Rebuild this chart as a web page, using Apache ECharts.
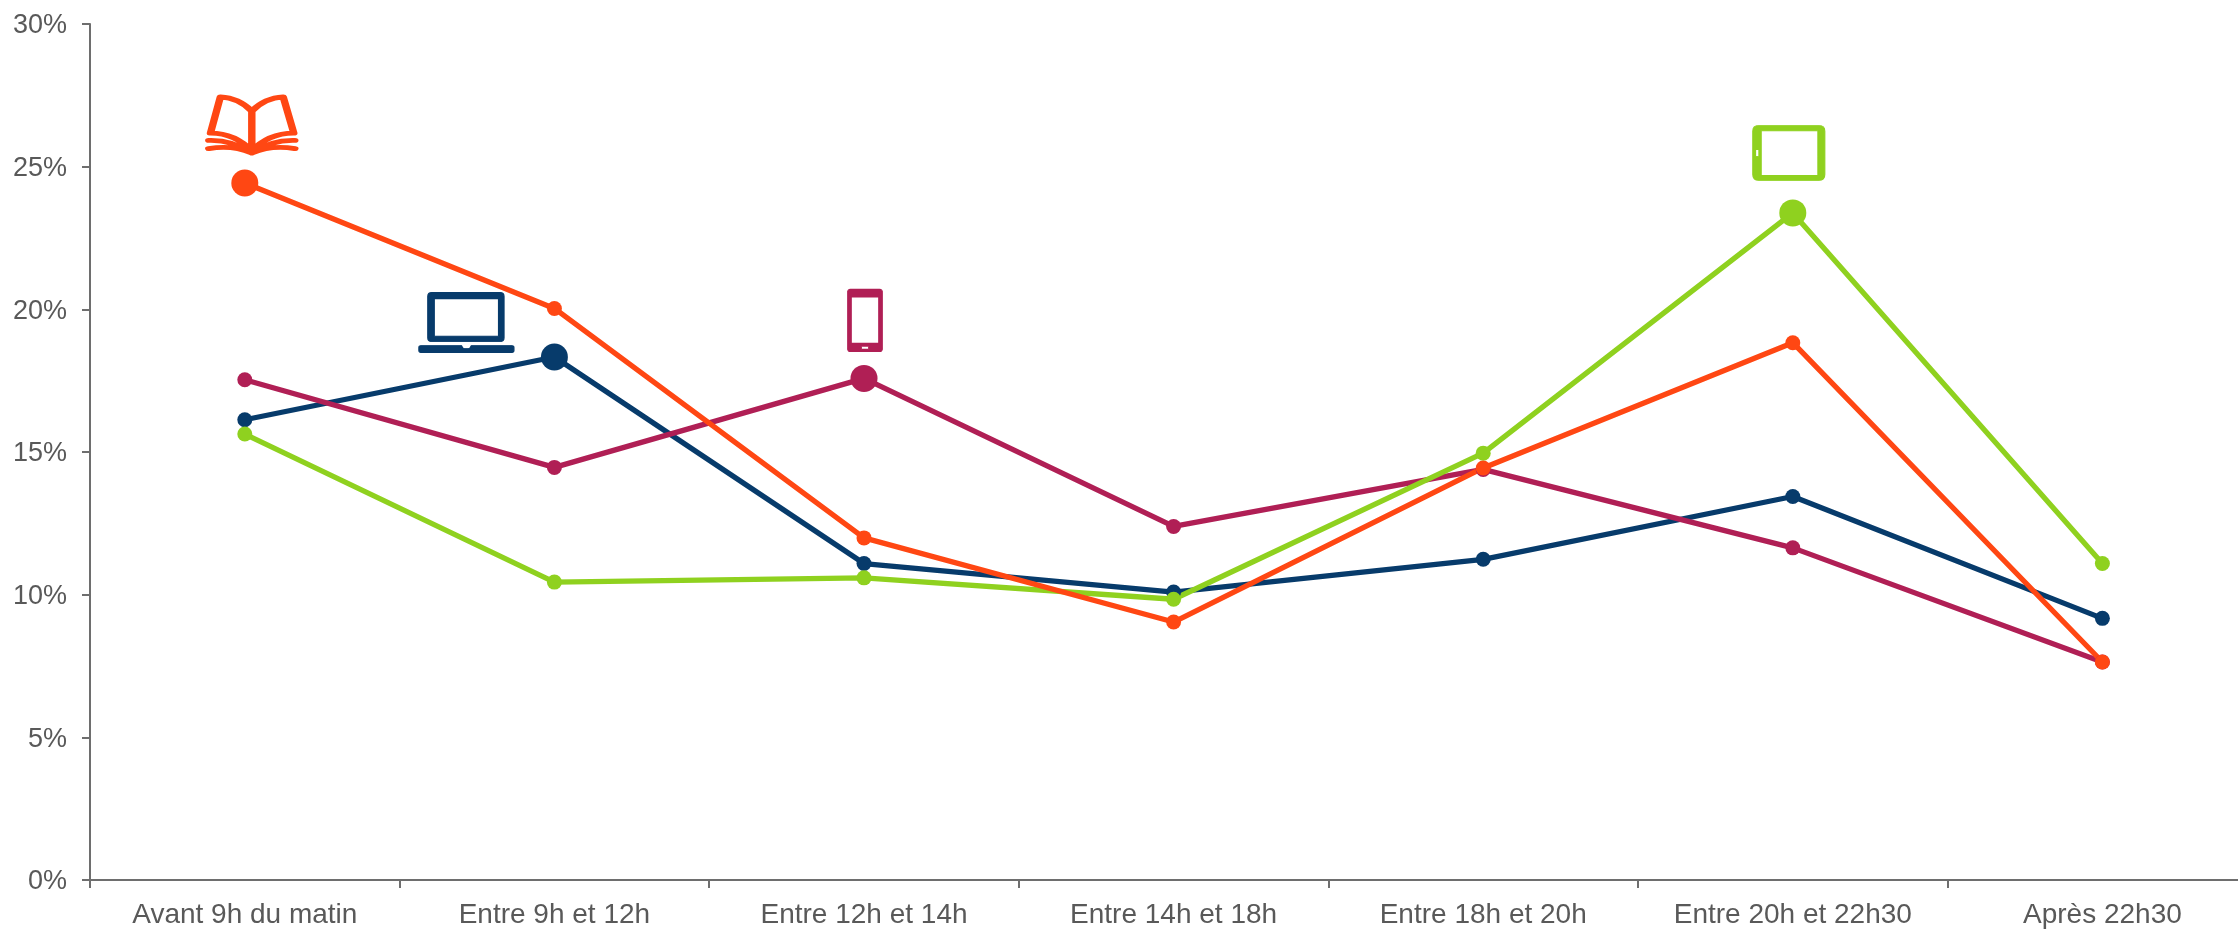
<!DOCTYPE html>
<html>
<head>
<meta charset="utf-8">
<style>html,body{margin:0;padding:0;background:#fff}#c{width:2238px;height:929px}</style>
<script src="https://cdn.jsdelivr.net/npm/echarts@6/dist/echarts.min.js"></script>
</head>
<body>
<div id="c"></div>
<script>
const categories = ['Avant 9h du matin','Entre 9h et 12h','Entre 12h et 14h','Entre 14h et 18h','Entre 18h et 20h','Entre 20h et 22h30','Après 22h30'];
const navyValues = [16.13,18.33,11.09,10.09,11.24,13.44,9.17];
const crimsonValues = [17.53,14.46,17.58,12.39,14.39,11.64,7.64];
const greenValues = [15.63,10.44,10.59,9.84,14.96,23.38,11.09];
const orangeValues = [24.43,20.03,11.99,9.04,14.44,18.83,7.64];

const NAVY='#073B6B', CRIMSON='#B01F55', GREEN='#8FD11F', ORANGE='#FF4713';

const laptopIcon = 'path://M13 0H82Q86 0 86 4V46Q86 50 82 50H13Q9 50 9 46V4Q9 0 13 0Z'
  + 'M15.5 6.5V44.5H80.5V6.5Z'
  + 'M2 54H43Q44 57 46 57H50Q52 57 53 54H94Q96 54 96 56V59Q96 61 94 61H2Q0 61 0 59V56Q0 54 2 54Z';
const phoneIcon = 'path://M3 0H33Q36 0 36 3V60Q36 63 33 63H3Q0 63 0 60V3Q0 0 3 0Z'
  + 'M4 7.5V55H32V7.5Z'
  + 'M14.5 57.5V61H21.5V57.5Z';
const tabletIcon = 'path://M6 0H67Q73 0 73 6V50Q73 56 67 56H6Q0 56 0 50V6Q0 0 6 0Z'
  + 'M8.5 5.5V51H66V5.5Z'
  + 'M2.8 24.5V31.5H6.2V24.5Z';
const bookIcon = 'path://M170 78Q130 38 75 35L45 145Q120 145 170 200Q220 145 297 145L265 35Q210 38 170 78L170 205'
  + 'M40 167Q110 165 170 205Q230 165 300 167'
  + 'M40 192Q110 180 170 205Q230 180 300 192';

function bigPoint(values, index, size){
  return values.map((v,i)=> i===index ? {value:v, symbolSize:size} : v);
}
function makeSeries(name, values, color, bigIndex, icon){
  return {
    name, type:'line', data:bigPoint(values,bigIndex,27),
    symbol:'circle', symbolSize:15, showSymbol:true, animation:false,
    lineStyle:{color,width:5.3}, itemStyle:{color},
    markPoint:{
      silent:true, animation:false,
      data:[{
        coord:[categories[bigIndex], values[bigIndex]],
        symbol:icon.path, symbolSize:icon.size, symbolOffset:icon.offset,
        itemStyle:icon.style, label:{show:false}
      }]
    }
  };
}
const axisColor='#6E6E6E', textColor='#595959', fontFamily='"Liberation Sans",Arial,sans-serif';

const chart = echarts.init(document.getElementById('c'),null,{renderer:'canvas'});
chart.setOption({
  backgroundColor:'#fff',
  animation:false,
  grid:{left:90,top:24,width:2167.2,height:856,containLabel:false,outerBoundsMode:'none'},
  xAxis:{
    type:'category', data:categories, boundaryGap:true,
    axisLine:{show:true,lineStyle:{color:axisColor,width:2}},
    axisTick:{show:true,length:8,lineStyle:{color:axisColor,width:2}},
    axisLabel:{color:textColor,fontSize:28,fontFamily,margin:21,interval:0}
  },
  yAxis:{
    type:'value', min:0, max:30, interval:5,
    splitLine:{show:false},
    axisLine:{show:true,lineStyle:{color:axisColor,width:2}},
    axisTick:{show:true,length:8,lineStyle:{color:axisColor,width:2}},
    axisLabel:{color:textColor,fontSize:27,fontFamily,margin:23,formatter:'{a|{value}%}',
      rich:{a:{color:textColor,fontSize:27,fontFamily,padding:[4,0,0,0]}}}
  },
  series:[
    makeSeries('Ordinateur',navyValues,NAVY,1,{path:laptopIcon,size:[95,60],offset:[-88,-34.5],style:{color:NAVY,borderColor:NAVY,borderWidth:1}}),
    makeSeries('Smartphone',crimsonValues,CRIMSON,2,{path:phoneIcon,size:[35,62],offset:[1,-58],style:{color:CRIMSON,borderColor:CRIMSON,borderWidth:1}}),
    makeSeries('Tablette',greenValues,GREEN,5,{path:tabletIcon,size:[72,55],offset:[-4,-60],style:{color:GREEN,borderColor:GREEN,borderWidth:1}}),
    makeSeries('Papier',orangeValues,ORANGE,0,{path:bookIcon,size:[86,56],offset:[7,-58],style:{color:'rgba(0,0,0,0)',borderColor:ORANGE,borderWidth:6,borderCap:'round',borderJoin:'round'}})
  ]
});
</script>
</body>
</html>
